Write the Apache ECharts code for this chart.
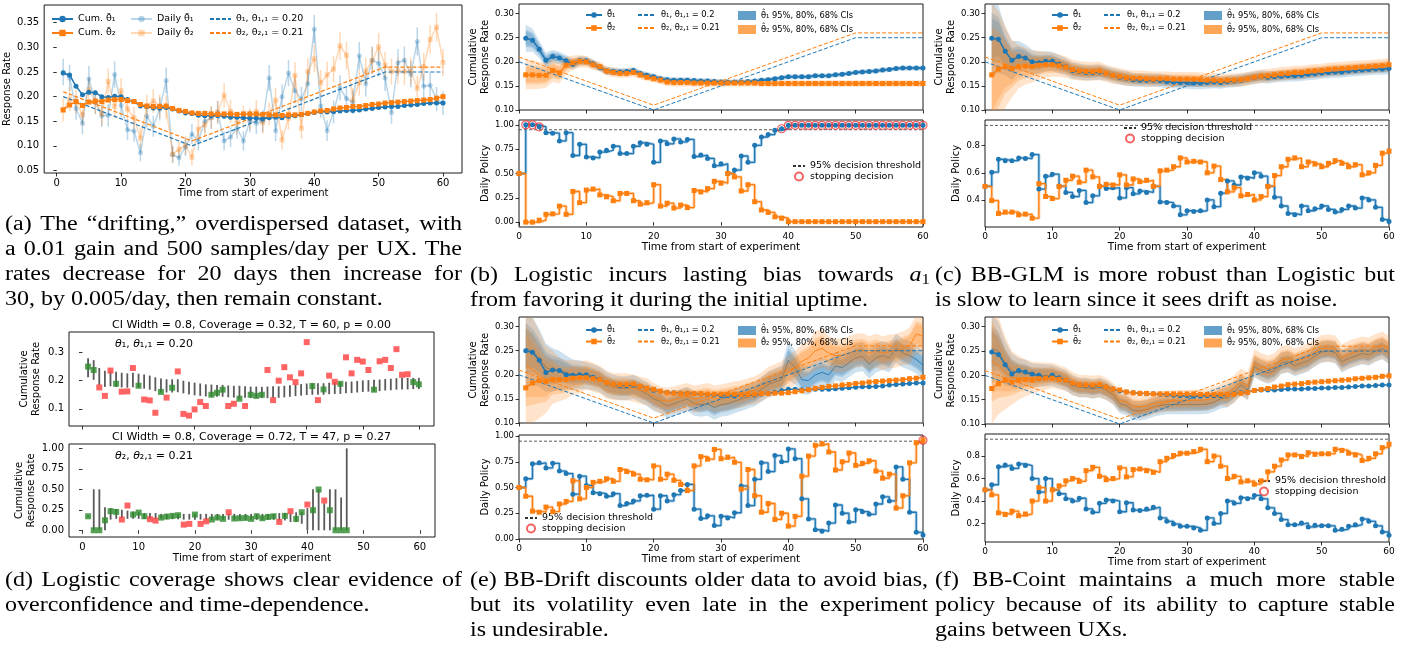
<!DOCTYPE html>
<html><head><meta charset="utf-8">
<script src="https://cdn.jsdelivr.net/npm/echarts@6/dist/echarts.min.js"></script>
<style>
body{margin:0;background:#fff}
#wrap{position:relative;width:1411px;height:647px;overflow:hidden}
#c{position:absolute;left:0;top:0;width:1411px;height:647px}
.cap{position:absolute;font-family:'Liberation Serif','Times New Roman',serif;font-size:20px;line-height:25px;height:25px;color:#000;white-space:nowrap;transform-origin:0 0}
.j{text-align:justify;text-align-last:justify}
.cap sub{font-size:14px;vertical-align:-3px;line-height:0}
</style></head><body>
<div id="wrap"><div id="c"></div></div>
<script>
// ---------------- DATA ----------------
const days = Array.from({length:60},(_,i)=>i+1);
const days0 = Array.from({length:61},(_,i)=>i);
const thetaXa = [1,21,51,60];
const thetaXb = [0,20,50,60];
const theta1 = [0.20,0.10,0.25,0.25];
const theta2 = [0.21,0.11,0.26,0.26];
const xTicks = [0,10,20,30,40,50,60];

// (a)
const cumA1 = [0.248,0.244,0.221,0.204,0.209,0.208,0.200,0.198,0.201,0.200,0.194,0.190,0.181,0.180,0.177,0.177,0.178,0.175,0.171,0.167,0.166,0.162,0.161,0.161,0.161,0.160,0.158,0.158,0.157,0.156,0.156,0.155,0.157,0.158,0.157,0.160,0.161,0.163,0.166,0.168,0.170,0.169,0.170,0.171,0.172,0.172,0.173,0.175,0.176,0.178,0.179,0.180,0.180,0.182,0.183,0.184,0.186,0.187,0.187,0.187];
const cumA2 = [0.173,0.183,0.190,0.182,0.189,0.191,0.190,0.193,0.194,0.194,0.192,0.190,0.184,0.181,0.180,0.180,0.181,0.176,0.172,0.170,0.167,0.166,0.166,0.165,0.164,0.165,0.165,0.164,0.165,0.165,0.165,0.164,0.163,0.163,0.162,0.163,0.163,0.164,0.166,0.169,0.171,0.172,0.175,0.177,0.178,0.180,0.180,0.182,0.184,0.185,0.187,0.188,0.189,0.190,0.191,0.192,0.193,0.194,0.197,0.200];
const dailyTheta1 = [0.250,0.238,0.176,0.146,0.236,0.189,0.161,0.162,0.245,0.182,0.133,0.130,0.086,0.160,0.140,0.175,0.233,0.082,0.076,0.098,0.124,0.110,0.150,0.157,0.168,0.110,0.118,0.136,0.110,0.150,0.146,0.150,0.238,0.131,0.200,0.248,0.212,0.195,0.226,0.337,0.181,0.131,0.169,0.218,0.196,0.189,0.283,0.226,0.274,0.268,0.238,0.168,0.269,0.274,0.245,0.312,0.221,0.223,0.195,0.187];
const dailyTheta2 = [0.173,0.195,0.190,0.163,0.214,0.189,0.165,0.231,0.180,0.212,0.175,0.157,0.116,0.180,0.191,0.181,0.178,0.083,0.093,0.101,0.077,0.134,0.143,0.158,0.169,0.203,0.170,0.146,0.159,0.155,0.170,0.147,0.165,0.193,0.112,0.156,0.243,0.136,0.251,0.277,0.228,0.244,0.256,0.303,0.284,0.193,0.228,0.252,0.273,0.301,0.264,0.251,0.252,0.251,0.252,0.217,0.261,0.316,0.341,0.269];
const dailyN = 1000;

// (b) Logistic
const cumB1 = [0.249,0.245,0.226,0.203,0.211,0.208,0.202,0.195,0.202,0.202,0.196,0.188,0.181,0.180,0.179,0.180,0.182,0.176,0.172,0.169,0.165,0.163,0.162,0.162,0.162,0.161,0.160,0.160,0.159,0.158,0.158,0.158,0.158,0.159,0.160,0.162,0.163,0.165,0.167,0.169,0.169,0.169,0.169,0.171,0.171,0.171,0.173,0.174,0.176,0.178,0.179,0.180,0.181,0.183,0.184,0.186,0.187,0.187,0.187,0.187];
const cumB2 = [0.173,0.173,0.172,0.172,0.182,0.177,0.193,0.198,0.201,0.200,0.194,0.190,0.181,0.178,0.176,0.176,0.178,0.173,0.168,0.165,0.162,0.158,0.157,0.157,0.157,0.156,0.156,0.156,0.156,0.156,0.156,0.156,0.156,0.156,0.156,0.155,0.155,0.155,0.155,0.155,0.155,0.155,0.155,0.155,0.155,0.155,0.155,0.155,0.155,0.155,0.155,0.155,0.155,0.155,0.155,0.155,0.155,0.155,0.155,0.155];
const hwB1 = [0.028,0.024,0.018,0.016,0.014,0.013,0.012,0.011,0.010,0.009,0.009,0.008,0.008,0.008,0.008,0.007,0.007,0.007,0.007,0.007,0.006,0.006,0.006,0.006,0.006,0.006,0.006,0.006,0.006,0.006,0.005,0.005,0.005,0.005,0.005,0.005,0.005,0.005,0.005,0.005,0.005,0.005,0.005,0.005,0.005,0.005,0.005,0.005,0.005,0.005,0.005,0.005,0.005,0.005,0.005,0.005,0.005,0.005,0.005,0.005];
const hwB2 = [0.030,0.030,0.028,0.026,0.024,0.022,0.018,0.015,0.013,0.012,0.011,0.010,0.010,0.010,0.009,0.009,0.009,0.009,0.008,0.008,0.008,0.008,0.008,0.008,0.008,0.008,0.008,0.008,0.008,0.008,0.007,0.007,0.007,0.007,0.007,0.007,0.007,0.007,0.007,0.007,0.007,0.007,0.007,0.007,0.007,0.007,0.007,0.007,0.007,0.007,0.007,0.007,0.007,0.007,0.007,0.007,0.007,0.007,0.007,0.007];
const polB1 = [0.50,1.00,1.00,0.98,0.92,0.915,0.835,0.92,0.685,0.80,0.67,0.66,0.72,0.74,0.78,0.705,0.705,0.78,0.815,0.80,0.615,0.835,0.805,0.855,0.825,0.85,0.675,0.69,0.655,0.58,0.60,0.50,0.535,0.68,0.615,0.79,0.875,0.90,0.945,0.96,0.995,0.995,0.995,0.995,0.995,0.995,0.995,0.995,0.995,0.995,0.995,0.995,0.995,0.995,0.995,0.995,0.995,0.995,0.995,0.995,0.995];
const polB2 = [0.50,0.00,0.00,0.02,0.08,0.085,0.165,0.08,0.315,0.20,0.33,0.34,0.28,0.26,0.22,0.295,0.295,0.22,0.185,0.20,0.385,0.165,0.195,0.145,0.175,0.15,0.325,0.31,0.345,0.42,0.40,0.50,0.465,0.32,0.385,0.21,0.125,0.10,0.055,0.04,0.005,0.005,0.005,0.005,0.005,0.005,0.005,0.005,0.005,0.005,0.005,0.005,0.005,0.005,0.005,0.005,0.005,0.005,0.005,0.005,0.005];

// (c) BB-GLM
const cumC1 = [0.249,0.247,0.222,0.203,0.211,0.208,0.200,0.198,0.201,0.201,0.195,0.190,0.182,0.180,0.178,0.178,0.179,0.176,0.172,0.168,0.166,0.163,0.162,0.162,0.162,0.161,0.159,0.158,0.157,0.157,0.156,0.156,0.157,0.158,0.157,0.159,0.160,0.162,0.165,0.167,0.169,0.168,0.169,0.170,0.171,0.171,0.172,0.174,0.175,0.177,0.178,0.179,0.179,0.181,0.182,0.183,0.184,0.185,0.185,0.186];
const cumC2 = [0.173,0.185,0.190,0.186,0.190,0.191,0.190,0.193,0.194,0.194,0.192,0.189,0.184,0.181,0.180,0.180,0.181,0.176,0.172,0.170,0.167,0.166,0.166,0.165,0.164,0.165,0.165,0.164,0.164,0.164,0.164,0.163,0.162,0.162,0.161,0.162,0.162,0.163,0.165,0.168,0.170,0.171,0.173,0.175,0.176,0.178,0.178,0.180,0.181,0.182,0.184,0.185,0.186,0.187,0.188,0.189,0.190,0.191,0.192,0.194];
const hwC1 = [0.080,0.070,0.050,0.040,0.032,0.028,0.025,0.023,0.021,0.020,0.019,0.018,0.017,0.017,0.016,0.016,0.016,0.015,0.015,0.015,0.015,0.014,0.014,0.014,0.014,0.014,0.014,0.013,0.013,0.013,0.013,0.013,0.013,0.013,0.013,0.013,0.013,0.013,0.013,0.013,0.013,0.013,0.012,0.012,0.012,0.012,0.012,0.012,0.012,0.012,0.012,0.012,0.012,0.012,0.012,0.012,0.012,0.012,0.012,0.012];
const hwC2 = [0.150,0.120,0.085,0.060,0.045,0.038,0.033,0.030,0.027,0.025,0.023,0.022,0.021,0.020,0.020,0.019,0.019,0.018,0.018,0.017,0.017,0.016,0.016,0.016,0.016,0.015,0.015,0.015,0.015,0.015,0.015,0.015,0.015,0.015,0.014,0.014,0.014,0.014,0.014,0.014,0.014,0.014,0.014,0.014,0.014,0.014,0.014,0.014,0.014,0.014,0.014,0.014,0.014,0.014,0.014,0.014,0.014,0.014,0.014,0.014];
const polC1 = [0.50,0.605,0.70,0.69,0.69,0.71,0.705,0.735,0.48,0.575,0.59,0.50,0.455,0.425,0.47,0.38,0.43,0.50,0.485,0.49,0.415,0.49,0.445,0.465,0.455,0.50,0.385,0.38,0.355,0.29,0.32,0.315,0.32,0.40,0.35,0.45,0.54,0.51,0.57,0.56,0.60,0.575,0.50,0.42,0.355,0.30,0.29,0.355,0.32,0.335,0.355,0.33,0.31,0.33,0.355,0.34,0.415,0.40,0.345,0.255,0.24];
const polC2 = [0.50,0.395,0.30,0.31,0.31,0.29,0.295,0.265,0.52,0.425,0.41,0.50,0.545,0.575,0.53,0.62,0.57,0.50,0.515,0.51,0.585,0.51,0.555,0.535,0.545,0.50,0.615,0.62,0.645,0.71,0.68,0.685,0.68,0.60,0.65,0.55,0.46,0.49,0.43,0.44,0.40,0.425,0.50,0.58,0.645,0.70,0.71,0.645,0.68,0.665,0.645,0.67,0.69,0.67,0.645,0.66,0.585,0.60,0.655,0.745,0.76];

// (d) Logistic coverage
const ciLo1 = [0.212,0.203,0.185,0.178,0.180,0.178,0.176,0.175,0.177,0.175,0.172,0.168,0.163,0.157,0.158,0.158,0.159,0.155,0.151,0.148,0.146,0.144,0.143,0.143,0.143,0.141,0.140,0.134,0.139,0.138,0.138,0.138,0.138,0.139,0.139,0.141,0.143,0.145,0.147,0.149,0.150,0.150,0.150,0.152,0.153,0.153,0.155,0.156,0.158,0.160,0.161,0.162,0.163,0.165,0.166,0.168,0.169,0.169,0.170,0.170];
const ciHi1 = [0.280,0.273,0.245,0.235,0.232,0.232,0.228,0.226,0.228,0.225,0.222,0.218,0.212,0.208,0.205,0.205,0.205,0.200,0.196,0.193,0.190,0.187,0.186,0.185,0.185,0.183,0.182,0.182,0.180,0.179,0.179,0.178,0.179,0.180,0.180,0.182,0.184,0.186,0.188,0.190,0.191,0.191,0.191,0.193,0.194,0.194,0.196,0.197,0.199,0.201,0.202,0.203,0.204,0.206,0.207,0.209,0.210,0.210,0.210,0.210];
const daysD2 = days.slice(0,47);
const obsD2 = [0.171,0.0,0.0,0.122,0.233,0.224,0.131,0.302,0.192,0.216,0.171,0.135,0.118,0.155,0.167,0.176,0.184,0.069,0.078,0.192,0.078,0.110,0.131,0.155,0.139,0.220,0.143,0.147,0.151,0.139,0.171,0.147,0.163,0.171,0.102,0.176,0.233,0.139,0.220,0.314,0.245,0.498,0.363,0.245,0.0,0.0,0.0];
const ciLo2 = [0.160,0.0,0.0,0.0,0.13,0.14,0.15,0.14,0.14,0.14,0.14,0.14,0.14,0.14,0.135,0.135,0.135,0.13,0.13,0.13,0.13,0.13,0.128,0.128,0.128,0.128,0.128,0.128,0.128,0.128,0.128,0.128,0.128,0.128,0.12,0.12,0.10,0.10,0.08,0.0,0.0,0.0,0.0,0.0,0.0,0.0,0.0];
const ciHi2 = [0.180,0.50,0.50,0.28,0.27,0.26,0.25,0.24,0.23,0.22,0.21,0.21,0.21,0.20,0.20,0.20,0.20,0.20,0.20,0.20,0.20,0.20,0.20,0.20,0.20,0.20,0.20,0.20,0.20,0.20,0.20,0.20,0.20,0.20,0.21,0.21,0.20,0.22,0.225,0.27,0.50,0.50,0.33,0.50,0.50,0.40,1.00];

// (e) BB-Drift
const cumE1 = [0.250,0.247,0.230,0.205,0.210,0.209,0.200,0.199,0.200,0.200,0.195,0.191,0.183,0.181,0.178,0.178,0.179,0.176,0.172,0.168,0.166,0.164,0.163,0.162,0.162,0.161,0.160,0.159,0.158,0.157,0.157,0.156,0.158,0.158,0.158,0.160,0.162,0.164,0.167,0.170,0.170,0.169,0.169,0.170,0.170,0.170,0.171,0.172,0.173,0.174,0.175,0.175,0.176,0.177,0.179,0.180,0.181,0.182,0.183,0.183];
const cumE2 = [0.173,0.183,0.188,0.186,0.190,0.190,0.190,0.193,0.194,0.194,0.192,0.190,0.184,0.181,0.180,0.180,0.181,0.176,0.172,0.170,0.166,0.163,0.162,0.161,0.161,0.161,0.161,0.160,0.160,0.160,0.160,0.160,0.159,0.159,0.160,0.161,0.161,0.162,0.162,0.163,0.165,0.167,0.169,0.172,0.174,0.176,0.177,0.179,0.180,0.182,0.183,0.185,0.186,0.187,0.188,0.189,0.190,0.192,0.193,0.195];
const estE1 = [0.255,0.250,0.235,0.215,0.210,0.210,0.205,0.200,0.200,0.198,0.195,0.190,0.180,0.175,0.172,0.172,0.175,0.168,0.160,0.150,0.145,0.135,0.140,0.145,0.150,0.140,0.138,0.140,0.132,0.138,0.140,0.145,0.150,0.155,0.160,0.170,0.180,0.185,0.190,0.230,0.215,0.190,0.188,0.200,0.205,0.200,0.218,0.215,0.225,0.235,0.238,0.222,0.235,0.240,0.235,0.255,0.245,0.240,0.232,0.220];
const estE2 = [0.220,0.210,0.200,0.190,0.195,0.190,0.190,0.195,0.195,0.200,0.195,0.190,0.180,0.175,0.175,0.175,0.172,0.168,0.165,0.155,0.148,0.145,0.148,0.152,0.155,0.150,0.152,0.155,0.150,0.152,0.155,0.158,0.160,0.165,0.168,0.175,0.185,0.190,0.195,0.205,0.215,0.228,0.235,0.250,0.255,0.245,0.240,0.240,0.245,0.250,0.252,0.245,0.250,0.245,0.248,0.250,0.255,0.260,0.285,0.280];
const hwE1 = [0.080,0.070,0.060,0.050,0.045,0.040,0.035,0.032,0.030,0.028,0.027,0.026,0.026,0.025,0.025,0.025,0.025,0.025,0.025,0.025,0.025,0.025,0.025,0.025,0.025,0.025,0.025,0.025,0.025,0.025,0.025,0.025,0.025,0.025,0.025,0.026,0.027,0.028,0.030,0.040,0.035,0.030,0.030,0.030,0.030,0.030,0.030,0.030,0.030,0.030,0.030,0.030,0.030,0.030,0.030,0.030,0.030,0.030,0.030,0.030];
const hwE2 = [0.130,0.110,0.090,0.070,0.055,0.045,0.040,0.036,0.033,0.030,0.030,0.029,0.029,0.028,0.028,0.028,0.028,0.028,0.028,0.028,0.028,0.028,0.028,0.028,0.028,0.028,0.028,0.028,0.028,0.028,0.028,0.028,0.028,0.028,0.029,0.030,0.031,0.032,0.033,0.035,0.035,0.035,0.035,0.040,0.040,0.035,0.035,0.035,0.035,0.035,0.035,0.035,0.035,0.035,0.035,0.035,0.035,0.038,0.040,0.040];
const polE1 = [0.50,0.585,0.73,0.74,0.69,0.735,0.66,0.635,0.435,0.61,0.52,0.45,0.44,0.415,0.44,0.325,0.345,0.37,0.42,0.425,0.29,0.42,0.37,0.43,0.47,0.53,0.29,0.20,0.225,0.13,0.22,0.205,0.255,0.515,0.325,0.58,0.74,0.655,0.81,0.75,0.875,0.78,0.39,0.195,0.09,0.075,0.155,0.33,0.25,0.165,0.285,0.265,0.24,0.34,0.41,0.37,0.70,0.58,0.26,0.065,0.04];
const polE2 = [0.50,0.415,0.27,0.26,0.31,0.265,0.34,0.365,0.565,0.39,0.50,0.55,0.56,0.585,0.56,0.675,0.655,0.63,0.58,0.575,0.71,0.58,0.63,0.57,0.53,0.47,0.71,0.80,0.775,0.87,0.78,0.795,0.745,0.485,0.675,0.42,0.26,0.345,0.19,0.25,0.125,0.22,0.61,0.805,0.91,0.925,0.845,0.67,0.75,0.835,0.715,0.735,0.76,0.66,0.59,0.63,0.30,0.42,0.74,0.935,0.96];

// (f) BB-Coint
const cumF1 = [0.248,0.243,0.222,0.203,0.210,0.207,0.203,0.200,0.195,0.200,0.195,0.190,0.183,0.181,0.178,0.178,0.179,0.176,0.172,0.168,0.166,0.164,0.163,0.162,0.162,0.161,0.160,0.159,0.158,0.158,0.157,0.157,0.158,0.158,0.158,0.160,0.162,0.164,0.166,0.169,0.170,0.170,0.170,0.171,0.172,0.172,0.172,0.173,0.173,0.174,0.174,0.175,0.175,0.176,0.177,0.178,0.178,0.179,0.180,0.180];
const cumF2 = [0.173,0.183,0.190,0.186,0.190,0.191,0.190,0.193,0.194,0.194,0.192,0.190,0.184,0.181,0.180,0.180,0.181,0.176,0.172,0.170,0.166,0.164,0.163,0.163,0.162,0.162,0.162,0.162,0.162,0.162,0.162,0.161,0.161,0.161,0.161,0.161,0.161,0.163,0.165,0.169,0.171,0.173,0.176,0.178,0.181,0.182,0.183,0.185,0.186,0.187,0.188,0.189,0.190,0.191,0.193,0.194,0.195,0.196,0.198,0.199];
const estF1 = [0.255,0.250,0.225,0.210,0.205,0.205,0.200,0.200,0.200,0.200,0.195,0.190,0.180,0.175,0.175,0.172,0.175,0.170,0.160,0.142,0.138,0.128,0.127,0.130,0.135,0.138,0.140,0.140,0.140,0.140,0.140,0.140,0.141,0.145,0.152,0.155,0.165,0.180,0.170,0.218,0.210,0.205,0.210,0.225,0.228,0.220,0.225,0.230,0.240,0.248,0.250,0.247,0.228,0.235,0.240,0.245,0.242,0.250,0.255,0.245];
const estF2 = [0.230,0.220,0.205,0.195,0.195,0.195,0.195,0.197,0.198,0.200,0.196,0.192,0.183,0.178,0.178,0.176,0.178,0.172,0.163,0.148,0.145,0.136,0.135,0.137,0.142,0.145,0.147,0.147,0.148,0.148,0.149,0.149,0.150,0.154,0.160,0.163,0.172,0.186,0.178,0.225,0.218,0.213,0.218,0.232,0.235,0.228,0.233,0.238,0.247,0.255,0.256,0.254,0.236,0.243,0.248,0.252,0.250,0.257,0.262,0.253];
const hwF1 = [0.070,0.060,0.045,0.035,0.030,0.027,0.025,0.024,0.023,0.022,0.021,0.021,0.021,0.020,0.020,0.020,0.020,0.020,0.020,0.020,0.020,0.020,0.020,0.020,0.020,0.020,0.020,0.020,0.020,0.020,0.020,0.020,0.020,0.020,0.020,0.021,0.021,0.021,0.021,0.022,0.022,0.022,0.022,0.022,0.022,0.022,0.022,0.022,0.022,0.022,0.022,0.022,0.022,0.022,0.022,0.022,0.022,0.022,0.022,0.022];
const hwF2 = [0.130,0.100,0.075,0.055,0.045,0.038,0.033,0.030,0.028,0.026,0.025,0.024,0.024,0.023,0.023,0.023,0.023,0.023,0.022,0.022,0.022,0.022,0.022,0.022,0.022,0.022,0.022,0.022,0.022,0.022,0.022,0.022,0.022,0.022,0.022,0.028,0.028,0.028,0.028,0.028,0.028,0.028,0.028,0.028,0.028,0.028,0.028,0.028,0.028,0.028,0.028,0.028,0.028,0.028,0.028,0.028,0.028,0.028,0.028,0.028];
const polF1 = [0.50,0.545,0.705,0.72,0.69,0.73,0.715,0.60,0.48,0.60,0.50,0.465,0.42,0.40,0.425,0.33,0.30,0.38,0.41,0.40,0.305,0.385,0.32,0.315,0.33,0.345,0.25,0.22,0.195,0.175,0.175,0.16,0.14,0.25,0.20,0.29,0.40,0.38,0.43,0.42,0.45,0.42,0.34,0.29,0.235,0.19,0.19,0.205,0.17,0.185,0.18,0.18,0.14,0.15,0.175,0.19,0.24,0.22,0.18,0.125,0.095];
const polF2 = [0.50,0.455,0.295,0.28,0.31,0.27,0.285,0.40,0.52,0.40,0.50,0.535,0.58,0.60,0.575,0.67,0.70,0.62,0.59,0.60,0.695,0.615,0.68,0.685,0.67,0.655,0.75,0.78,0.805,0.825,0.825,0.84,0.86,0.75,0.80,0.71,0.60,0.62,0.57,0.58,0.55,0.58,0.66,0.71,0.765,0.81,0.81,0.795,0.83,0.815,0.82,0.82,0.86,0.85,0.825,0.81,0.76,0.78,0.82,0.875,0.905];

const THRESH = 0.95;

// ---------------- STYLE / HELPERS ----------------
const FONT = 'DejaVu Sans';
const C1 = '#1f77b4', C2 = '#ff7f0e';
function rgba(hex,a){const n=parseInt(hex.slice(1),16);return 'rgba('+((n>>16)&255)+','+((n>>8)&255)+','+(n&255)+','+a+')';}
const N = {
  cum1:'Cum. θ\u0304\u2081', cum2:'Cum. θ\u0304\u2082', d1:'Daily θ\u0304\u2081', d2:'Daily θ\u0304\u2082',
  ta1:'θ\u2081, θ\u2081,\u2081 = 0.20', ta2:'θ\u2082, θ\u2082,\u2081 = 0.21',
  m1:'θ\u0304\u2081', m2:'θ\u0304\u2082', t1:'θ\u2081, θ\u2081,\u2081 = 0.2', t2:'θ\u2082, θ\u2082,\u2081 = 0.21 ',
  b1:'θ\u0302\u2081 95%, 80%, 68% CIs', b2:'θ\u0302\u2082 95%, 80%, 68% CIs',
  th:'95% decision threshold', st:'stopping decision'
};

const gridsPx = [
 [43,5,419,168],[519,4,404,106],[519,120,404,107],[985,4,404,106],[985,120,404,107],
 [69,332,365,94],[69,444,366,93],[519,317,404,106],[519,435,404,104],[985,317,404,107],[985,434,404,108]
];
const grid = gridsPx.map(g=>({left:g[0],top:g[1],width:g[2],height:g[3],show:true,borderColor:'#1a1a1a',borderWidth:1,backgroundColor:'rgba(0,0,0,0)'}));

function xAx(gi,min,max,labels,name,fs,nameFs,gap){
  return {type:'value',gridIndex:gi,min,max,
    axisLine:{show:false},
    axisTick:{show:true,length:3.5,customValues:xTicks,lineStyle:{color:'#000',width:0.8}},
    axisLabel:{show:labels,customValues:xTicks,fontSize:fs,color:'#000',fontFamily:FONT,margin:5,formatter:v=>String(Math.round(v))},
    splitLine:{show:false},
    name:name||'',nameLocation:'middle',nameGap:gap||12,nameTextStyle:{fontSize:nameFs||10,color:'#000',fontFamily:FONT}};
}
function yAx(gi,min,max,ticks,dec,fs,name,gap,nameFs){
  return {type:'value',gridIndex:gi,min,max,
    axisLine:{show:false},
    axisTick:{show:true,length:3.5,customValues:ticks,lineStyle:{color:'#000',width:0.8}},
    axisLabel:{show:true,customValues:ticks,fontSize:fs,color:'#000',fontFamily:FONT,margin:5,formatter:v=>Number(v).toFixed(dec)},
    splitLine:{show:false},
    name,nameLocation:'middle',nameRotate:90,nameGap:gap,
    nameTextStyle:{fontSize:nameFs,color:'#000',fontFamily:FONT,lineHeight:Math.round(nameFs*1.2)}};
}
const topTicks=[0.10,0.15,0.20,0.25,0.30];
const halfTicks=[0,0.25,0.5,0.75,1.0];
const CR='Cumulative\nResponse Rate';
const xAxis=[
  xAx(0,-1.95,62.95,true,'Time from start of experiment',10,10,11),
  xAx(1,0,60,false),
  xAx(2,0,60,true,'Time from start of experiment',9,10.5,9),
  xAx(3,0,60,false),
  xAx(4,0,60,true,'Time from start of experiment',9,10.5,9),
  xAx(5,-2.4,62.7,false),
  xAx(6,-2.4,62.7,true,'Time from start of experiment',10,10.5,11),
  xAx(7,0,60,false),
  xAx(8,0,60,true,'Time from start of experiment',9,10.5,10),
  xAx(9,0,60,false),
  xAx(10,0,60,true,'Time from start of experiment',9,10.5,9)
];
const yAxis=[
  yAx(0,0.045,0.386,[0.05,0.10,0.15,0.20,0.25,0.30,0.35],2,10,'Response Rate',22,10),
  yAx(1,0.10,0.32,topTicks,2,8.5,CR,27,10),
  yAx(2,-0.05,1.05,halfTicks,2,8.5,'Daily Policy',28,10),
  yAx(3,0.10,0.32,topTicks,2,8.5,CR,27,10),
  yAx(4,0.20,0.99,[0.4,0.6,0.8],1,8.5,'Daily Policy',19,10),
  yAx(5,0.039,0.373,[0.1,0.2,0.3],1,10,CR,27,10),
  yAx(6,-0.082,1.053,halfTicks,2,10,CR,30,10),
  yAx(7,0.10,0.32,topTicks,2,8.5,CR,27,10),
  yAx(8,0,1.01,halfTicks,2,8.5,'Daily Policy',28,10),
  yAx(9,0.10,0.32,topTicks,2,8.5,CR,27,10),
  yAx(10,0.036,0.996,[0.2,0.4,0.6,0.8],1,8.5,'Daily Policy',19,10)
];

function pts(xs,ys){return xs.map((x,i)=>[x,ys[i]]);}
function lineS(gi,name,xs,ys,o){
  return Object.assign({type:'line',name,xAxisIndex:gi,yAxisIndex:gi,data:pts(xs,ys),symbol:'none',silent:true,animation:false,clip:true},o);
}
function cumS(gi,name,ys,color,sym,z){
  return lineS(gi,name,days,ys,{symbol:sym,symbolSize:5,lineStyle:{color,width:1.5},itemStyle:{color},z:z||5});
}
function dashS(gi,name,xs,ys,color,w){
  return lineS(gi,name,xs,ys,{lineStyle:{color,width:w||1,type:[4,2]},itemStyle:{color},z:4});
}
function polS(gi,ys,color,sym,nm){
  return lineS(gi,nm,days0,ys,{step:'end',symbol:sym,symbolSize:5,lineStyle:{color,width:1.3},itemStyle:{color},z:4});
}
function polGhost(gi,ys,color,nm){
  return lineS(gi,nm,days0,ys,{step:'end',lineStyle:{color:rgba(color,0.35),width:3},z:3});
}
function threshS(gi){
  return lineS(gi,N.th,[0,60],[THRESH,THRESH],{lineStyle:{color:'#333',width:0.8,type:[3,2]},itemStyle:{color:'#333'},z:3});
}
function stopS(gi,p1,p2){
  const d=[];
  days0.forEach((x,i)=>{if(p1[i]>=THRESH)d.push([x,p1[i]]);if(p2[i]>=THRESH)d.push([x,p2[i]]);});
  return {type:'scatter',name:N.st,xAxisIndex:gi,yAxisIndex:gi,data:d,symbol:'circle',symbolSize:8,silent:true,animation:false,
    itemStyle:{color:'rgba(255,255,255,0)',borderColor:'#f03c3c',borderWidth:1.2},z:6};
}
function errS(gi,xs,lo,hi,color,w,z){
  return {type:'custom',xAxisIndex:gi,yAxisIndex:gi,silent:true,animation:false,z:z||2,
    data:xs.map((x,i)=>[x,lo[i],hi[i]]),encode:{x:0,y:[1,2]},
    renderItem:(p,api)=>{const a=api.coord([api.value(0),api.value(1)]),b=api.coord([api.value(0),api.value(2)]);
      return {type:'line',shape:{x1:a[0],y1:a[1],x2:b[0],y2:b[1]},style:{stroke:color,lineWidth:w}};}};
}
// nested credible bands: 95% half-width scaled by normal quantile ratios for 80% and 68%
const Q = [1.0, 1.2816/1.96, 0.9945/1.96];
function bandS(gi,name,ctr,hw,color){
  return {type:'custom',name,xAxisIndex:gi,yAxisIndex:gi,silent:true,animation:false,z:1,
    data:[[days[0],ctr[0]]],encode:{x:0,y:1},itemStyle:{color:rgba(color,0.7)},
    renderItem:(p,api)=>{
      const cs=p.coordSys;
      const kids=Q.map(k=>{
        const up=[],dn=[];
        for(let i=0;i<days.length;i++){up.push(api.coord([days[i],ctr[i]+k*hw[i]]));dn.unshift(api.coord([days[i],ctr[i]-k*hw[i]]));}
        return {type:'polygon',shape:{points:up.concat(dn)},style:{fill:rgba(color,0.22)}};
      });
      kids.push({type:'polyline',shape:{points:days.map((x,i)=>api.coord([x,ctr[i]]))},style:{stroke:rgba(color,0.9),lineWidth:1,fill:null}});
      return {type:'group',children:kids,clipPath:{type:'rect',shape:{x:cs.x,y:cs.y,width:cs.width,height:cs.height}}};
    }};
}

const series=[];
// (a)
const binHalf = ys => ys.map(p=>1.96*Math.sqrt(p*(1-p)/dailyN));
const h1=binHalf(dailyTheta1), h2=binHalf(dailyTheta2);
series.push(errS(0,days,dailyTheta1.map((v,i)=>v-h1[i]),dailyTheta1.map((v,i)=>v+h1[i]),rgba(C1,0.3),1.5,2));
series.push(errS(0,days,dailyTheta2.map((v,i)=>v-h2[i]),dailyTheta2.map((v,i)=>v+h2[i]),rgba(C2,0.3),1.5,2));
series.push(lineS(0,N.d1,days,dailyTheta1,{symbol:'circle',symbolSize:5,lineStyle:{color:rgba(C1,0.3),width:1.5},itemStyle:{color:rgba(C1,0.3)},z:3}));
series.push(lineS(0,N.d2,days,dailyTheta2,{symbol:'rect',symbolSize:5,lineStyle:{color:rgba(C2,0.3),width:1.5},itemStyle:{color:rgba(C2,0.3)},z:3}));
series.push(dashS(0,N.ta1,thetaXa,theta1,C1,1.2));
series.push(dashS(0,N.ta2,thetaXa,theta2,C2,1.2));
series.push(cumS(0,N.cum1,cumA1,C1,'circle',6));
series.push(cumS(0,N.cum2,cumA2,C2,'rect',6));

// top panels with bands
function topPanel(gi,c1,c2,e1,e2,w1,w2){
  series.push(bandS(gi,N.b1,e1,w1,C1));
  series.push(bandS(gi,N.b2,e2,w2,C2));
  series.push(dashS(gi,N.t1,thetaXb,theta1,C1,1));
  series.push(dashS(gi,N.t2,thetaXb,theta2,C2,1));
  series.push(cumS(gi,N.m1,c1,C1,'circle'));
  series.push(cumS(gi,N.m2,c2,C2,'rect'));
}
function botPanel(gi,p1,p2){
  series.push(threshS(gi));
  series.push(polGhost(gi,p1,C1,'policy ghost 1'));
  series.push(polGhost(gi,p2,C2,'policy ghost 2'));
  series.push(polS(gi,p1,C1,'circle','policy 1'));
  series.push(polS(gi,p2,C2,'rect','policy 2'));
  series.push(stopS(gi,p1,p2));
}
topPanel(1,cumB1,cumB2,cumB1,cumB2,hwB1,hwB2); botPanel(2,polB1,polB2);
topPanel(3,cumC1,cumC2,cumC1,cumC2,hwC1,hwC2); botPanel(4,polC1,polC2);
topPanel(7,cumE1,cumE2,estE1,estE2,hwE1,hwE2); botPanel(8,polE1,polE2);
topPanel(9,cumF1,cumF2,estF1,estF2,hwF1,hwF2); botPanel(10,polF1,polF2);

// (d)
function covPanel(gi,xs,obs,lo,hi){
  series.push(errS(gi,xs,lo,hi,'#5a5a5a',1.8,2));
  const g=[],r=[];
  xs.forEach((x,i)=>{(obs[i]>=lo[i]&&obs[i]<=hi[i]?g:r).push([x,obs[i]]);});
  series.push({type:'scatter',xAxisIndex:gi,yAxisIndex:gi,data:g,symbol:'rect',symbolSize:6,itemStyle:{color:'#2e8b2e'},silent:true,animation:false,z:4});
  series.push({type:'scatter',xAxisIndex:gi,yAxisIndex:gi,data:r,symbol:'rect',symbolSize:6,itemStyle:{color:'#ff3d3d'},silent:true,animation:false,z:4});
}
covPanel(5,days,dailyTheta1,ciLo1,ciHi1);
covPanel(6,daysD2,obsD2,ciLo2,ciHi2);

// legends
function lg(names,left,top,fs,iw,ih,gap){
  return {data:names,orient:'vertical',left,top,itemWidth:iw,itemHeight:ih,itemGap:gap,padding:0,selectedMode:false,
    textStyle:{fontSize:fs,color:'#000',fontFamily:FONT}};
}
const bandItem=n=>({name:n,icon:'rect'});
const plain=n=>({name:n,itemStyle:{opacity:0}});
const legend=[
  lg([N.cum1,N.cum2],51,14,9.5,21,8,4),
  lg([N.d1,N.d2],130,14,9.5,21,8,4),
  lg([plain(N.ta1),plain(N.ta2)],209,14,9.5,21,8,4)
];
[[0,11,5],[466,11,5],[0,326,3.5],[466,326,3.5]].forEach(([dx,top,gap])=>{
  legend.push(lg([N.m1,N.m2],585+dx,top,8.3,16,7,gap));
  legend.push(lg([plain(N.t1),plain(N.t2)],637+dx,top,8.3,18,7,gap));
  legend.push(lg([bandItem(N.b1),bandItem(N.b2)],738+dx,top,8.3,18,9,gap));
});
legend.push(lg([plain(N.th),N.st],792,161,9.5,12,8,0.5));
legend.push(lg([plain(N.th),N.st],1123,123,9.5,12,8,0.5));
legend.push(lg([plain(N.th),N.st],524,513,9.5,12,8,0.5));
legend.push(lg([plain(N.th),N.st],1257,476,9.5,12,8,0.5));

// free texts
const rich={i:{fontStyle:'italic',fontFamily:FONT,fontSize:11},n:{fontFamily:FONT,fontSize:11}};
const graphic=[
  {type:'text',x:251.5,y:325,style:{text:'CI Width = 0.8, Coverage = 0.32, T = 60, p = 0.00',font:'11px "DejaVu Sans"',fill:'#000',align:'center',verticalAlign:'middle'}},
  {type:'text',x:251.5,y:437,style:{text:'CI Width = 0.8, Coverage = 0.72, T = 47, p = 0.27',font:'11px "DejaVu Sans"',fill:'#000',align:'center',verticalAlign:'middle'}},
  {type:'text',x:115,y:344,style:{text:'{i|θ}{n|\u2081, }{i|θ}{n|\u2081,\u2081 = 0.20}',rich,fill:'#000',verticalAlign:'middle'}},
  {type:'text',x:115,y:456,style:{text:'{i|θ}{n|\u2082, }{i|θ}{n|\u2082,\u2081 = 0.21}',rich,fill:'#000',verticalAlign:'middle'}}
];

const chart=echarts.init(document.getElementById('c'),null,{renderer:'canvas'});
chart.setOption({animation:false,backgroundColor:'#fff',grid,xAxis,yAxis,legend,series,graphic});

// captions (the reference figure is horizontally stretched, so text is widened)
const SX = 1.2;
const caps=[
  [5,223,457,['(a) The “drifting,” overdispersed dataset, with','a 0.01 gain and 500 samples/day per UX. The','rates decrease for 20 days then increase for','30, by 0.005/day, then remain constant.']],
  [470,274,460,['(b) Logistic incurs lasting bias towards <i>a</i><sub>1</sub>','from favoring it during the initial uptime.']],
  [935,274,460,['(c) BB-GLM is more robust than Logistic but','is slow to learn since it sees drift as noise.']],
  [5,579,457,['(d) Logistic coverage shows clear evidence of','overconfidence and time-dependence.']],
  [470,579,458,['(e) BB-Drift discounts older data to avoid bias,','but its volatility even late in the experiment','is undesirable.']],
  [935,579,460,['(f) BB-Coint maintains a much more stable','policy because of its ability to capture stable','gains between UXs.']]
];
const wrap=document.getElementById('wrap');
caps.forEach(([x,y,w,lines])=>{
  lines.forEach((t,k)=>{
    const d=document.createElement('div');
    d.className='cap'+(k<lines.length-1?' j':'');
    d.style.left=x+'px';d.style.top=(y+k*25.3-12.5)+'px';
    d.style.transform='scaleX('+SX+')';
    if(k<lines.length-1)d.style.width=(w/SX)+'px';
    d.innerHTML=t;wrap.appendChild(d);
  });
});
</script>
</body></html>
